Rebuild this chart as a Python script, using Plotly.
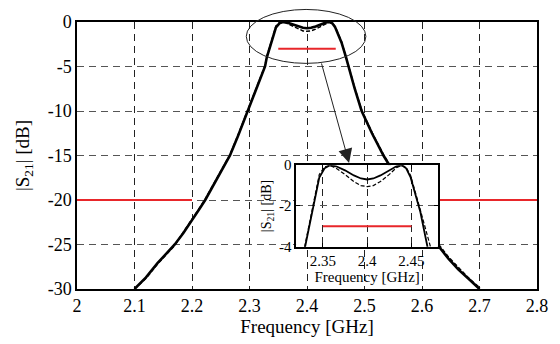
import plotly.graph_objects as go

# ---------------- data ----------------
freq_solid = [2.100, 2.120, 2.140, 2.160, 2.170, 2.185, 2.200, 2.212, 2.223, 2.235,
              2.250, 2.266, 2.280, 2.297, 2.312, 2.327, 2.330, 2.338, 2.346, 2.352,
              2.358, 2.365, 2.375, 2.385, 2.393, 2.400, 2.407, 2.415, 2.425, 2.433,
              2.439, 2.444, 2.449, 2.460, 2.468, 2.472, 2.483, 2.495, 2.513, 2.533,
              2.556, 2.580, 2.605, 2.629, 2.646, 2.663, 2.680, 2.700]
s21_solid = [-30.0, -28.7, -27.1, -25.7, -25.0, -23.7, -22.3, -21.1, -20.0, -18.6,
             -16.8, -15.0, -12.8, -10.0, -7.5, -5.0, -4.0, -2.3, -0.6, -0.15,
             0.0, -0.05, -0.25, -0.5, -0.65, -0.7, -0.65, -0.5, -0.25, -0.05,
             0.0, -0.15, -0.6, -2.3, -4.0, -5.0, -7.5, -10.0, -12.5, -15.0,
             -17.5, -20.0, -22.6, -25.2, -26.6, -27.8, -28.8, -30.0]

freq_dash = [2.100, 2.120, 2.140, 2.160, 2.170, 2.185, 2.200, 2.212, 2.223, 2.235,
             2.250, 2.266, 2.280, 2.297, 2.312, 2.327, 2.330, 2.338, 2.346, 2.352,
             2.358, 2.365, 2.375, 2.385, 2.393, 2.400, 2.407, 2.415, 2.425, 2.433,
             2.439, 2.444, 2.449, 2.460, 2.468, 2.472, 2.483, 2.495, 2.513, 2.533,
             2.556, 2.580, 2.605, 2.629, 2.646, 2.663, 2.680, 2.701]
s21_dash = [-30.0, -28.8, -27.2, -25.8, -25.1, -23.6, -22.2, -21.0, -19.9, -18.5,
            -16.7, -14.9, -12.7, -9.9, -7.4, -4.9, -3.9, -2.1, -0.45, -0.08,
            0.0, -0.15, -0.45, -0.8, -1.0, -1.05, -1.0, -0.8, -0.45, -0.12,
            0.0, -0.1, -0.5, -2.2, -3.9, -4.9, -7.4, -9.9, -12.4, -14.9,
            -17.4, -19.9, -22.5, -25.0, -26.4, -27.6, -28.7, -29.9]

mask_low_freq = [2.0, 2.2]
mask_high_freq = [2.6, 2.8]
mask_db = [-20, -20]
pass_freq = [2.35, 2.45]
pass_db = [-3, -3]

main_xticks = [2.0, 2.1, 2.2, 2.3, 2.4, 2.5, 2.6, 2.7, 2.8]
main_xticklabels = ["2", "2.1", "2.2", "2.3", "2.4", "2.5", "2.6", "2.7", "2.8"]
main_yticks = [0, -5, -10, -15, -20, -25, -30]
main_yticklabels = ["0", "-5", "-10", "-15", "-20", "-25", "-30"]
main_xrange = [2.0, 2.8]
main_yrange = [-30, 0]

inset_xticks = [2.35, 2.4, 2.45]
inset_xticklabels = ["2.35", "2.4", "2.45"]
inset_yticks = [0, -2, -4]
inset_yticklabels = ["0", "-2", "-4"]
inset_xrange = [2.32, 2.48]
inset_yrange = [-4, 0]

# ---------------- styles ----------------
FONT = "Liberation Serif, Times New Roman, serif"
RED = "#e8262a"
fig = go.Figure()

# main plot traces
fig.add_trace(go.Scatter(x=mask_low_freq, y=mask_db, mode="lines",
                         line=dict(color=RED, width=2), xaxis="x", yaxis="y"))
fig.add_trace(go.Scatter(x=mask_high_freq, y=mask_db, mode="lines",
                         line=dict(color=RED, width=2), xaxis="x", yaxis="y"))
fig.add_trace(go.Scatter(x=pass_freq, y=pass_db, mode="lines",
                         line=dict(color=RED, width=2), xaxis="x", yaxis="y"))
fig.add_trace(go.Scatter(x=freq_dash, y=s21_dash, mode="lines",
                         line=dict(color="black", width=1.5, dash="4px,2px"),
                         xaxis="x", yaxis="y"))
fig.add_trace(go.Scatter(x=freq_solid, y=s21_solid, mode="lines",
                         line=dict(color="black", width=2.6), xaxis="x", yaxis="y"))

# inset traces
fig.add_trace(go.Scatter(x=pass_freq, y=pass_db, mode="lines",
                         line=dict(color=RED, width=2), xaxis="x2", yaxis="y2"))
fig.add_trace(go.Scatter(x=freq_dash, y=s21_dash, mode="lines",
                         line=dict(color="black", width=1.2, dash="4px,2px"),
                         xaxis="x2", yaxis="y2"))
fig.add_trace(go.Scatter(x=freq_solid, y=s21_solid, mode="lines",
                         line=dict(color="black", width=1.8), xaxis="x2", yaxis="y2"))

grid_common = dict(showgrid=True, griddash="7px,5px", gridwidth=1.1)

fig.update_layout(
    width=560, height=344,
    margin=dict(l=77, r=13, t=16, b=55),
    paper_bgcolor="white", plot_bgcolor="white",
    showlegend=False,
    font=dict(family=FONT, color="black"),
    xaxis=dict(domain=[0, 1], range=main_xrange, tickvals=main_xticks,
               ticktext=main_xticklabels, tickfont=dict(size=18),
               gridcolor="#222", **grid_common,
               showline=True, linecolor="black", linewidth=1.5, mirror=True,
               zeroline=False, ticks="",
               title=dict(text="Frequency [GHz]", font=dict(size=19), standoff=2)),
    yaxis=dict(domain=[0, 1], range=main_yrange, tickvals=main_yticks,
               ticktext=main_yticklabels, tickfont=dict(size=18),
               gridcolor="#555", **grid_common,
               showline=True, linecolor="black", linewidth=1.5, mirror=True,
               zeroline=False, ticks="",
               title=dict(text="|S<sub>21</sub>| [dB]", font=dict(size=19), standoff=13)),
    xaxis2=dict(domain=[0.4766, 0.785], anchor="y2", range=inset_xrange,
                tickvals=inset_xticks, ticktext=inset_xticklabels,
                tickfont=dict(size=15), gridcolor="#222", **grid_common,
                showline=True, linecolor="black", linewidth=1.5, mirror="allticks",
                zeroline=False, ticks="inside", ticklen=4, tickcolor="black",
                title=dict(text="Frequency [GHz]", font=dict(size=15), standoff=0)),
    yaxis2=dict(domain=[0.1584, 0.4635], anchor="x2", range=inset_yrange,
                tickvals=inset_yticks, ticktext=inset_yticklabels,
                tickfont=dict(size=15), gridcolor="#555", **grid_common,
                showline=True, linecolor="black", linewidth=1.5, mirror="allticks",
                zeroline=False, ticks="inside", ticklen=4, tickcolor="black",
                title=dict(text="|S<sub>21</sub>| [dB]", font=dict(size=14), standoff=4)),
)

# white background for the inset (covers main grid below it)
fig.add_shape(type="rect", xref="x2", yref="y2",
              x0=inset_xrange[0], x1=inset_xrange[1],
              y0=inset_yrange[0], y1=inset_yrange[1],
              fillcolor="white", line=dict(width=0), layer="below")

# ellipse around passband (zoom marker)
fig.add_shape(type="circle", xref="paper", yref="paper",
              x0=0.368, x1=0.628, y0=0.845, y1=1.047,
              line=dict(color="#222", width=1), layer="above")

# arrow from ellipse to inset
fig.add_annotation(xref="paper", yref="paper", x=0.5915, y=0.472,
                   ax=-28, ay=-101, text="", showarrow=True,
                   arrowhead=2, arrowsize=2.8, arrowwidth=1.0, arrowcolor="#222")

fig.write_html("out.html")
